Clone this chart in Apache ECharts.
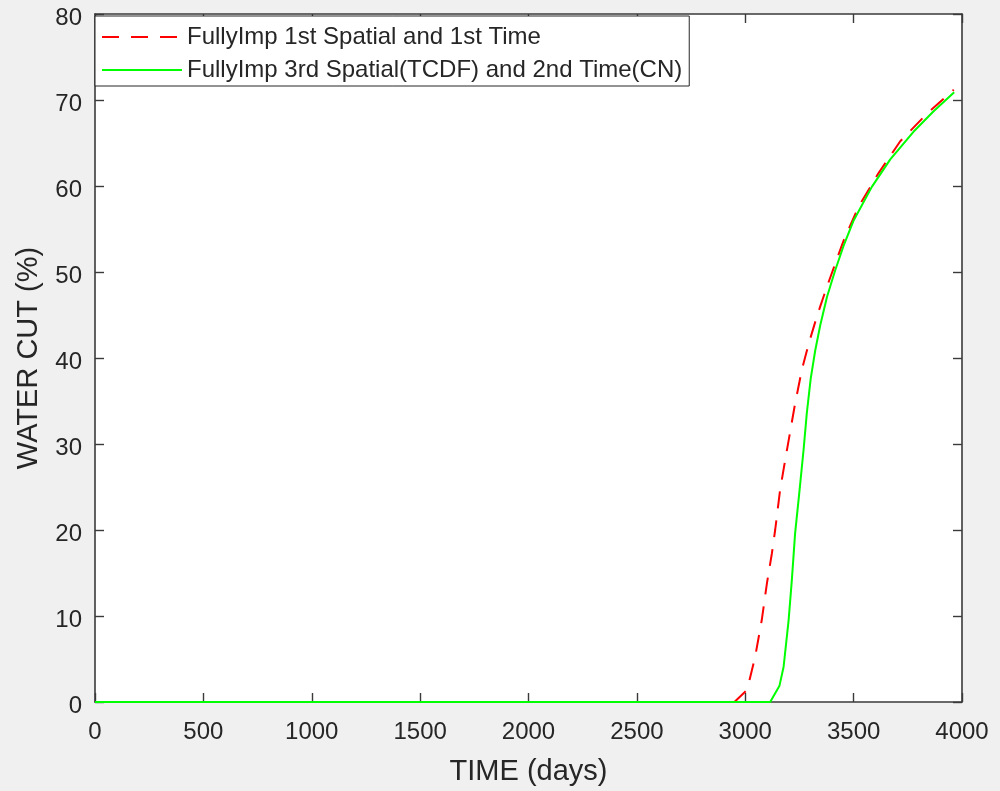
<!DOCTYPE html>
<html>
<head>
<meta charset="utf-8">
<script src="https://cdn.jsdelivr.net/npm/echarts@6/dist/echarts.min.js"></script>
<style>
  html, body { margin: 0; padding: 0; background: #f0f0f0; }
  #chart { width: 1000px; height: 791px; }
</style>
</head>
<body>
<div id="chart"></div>
<script>
// Water cut history for two discretisation schemes
const seriesNames = [
  'FullyImp 1st Spatial and 1st Time',
  'FullyImp 3rd Spatial(TCDF) and 2nd Time(CN)'
];

// 1st order spatial / 1st order time
const firstOrderDays = [0, 2950, 3004, 3020, 3046, 3076, 3100, 3123, 3138, 3161, 3184, 3207, 3230, 3261, 3292, 3323, 3346, 3377, 3407, 3453, 3523, 3615, 3715, 3838, 3962];
const firstOrderCut  = [0, 0, 1.3, 2.6, 5.3, 9.5, 13.8, 17.3, 20.0, 24.7, 28.1, 31.4, 34.7, 38.6, 41.6, 44.2, 46.0, 48.3, 50.4, 53.6, 57.6, 61.5, 65.2, 68.4, 71.2];

// 3rd order spatial (TCDF) / 2nd order time (CN)
const highOrderDays = [0, 3115, 3158, 3177, 3200, 3215, 3230, 3250, 3269, 3284, 3302, 3323, 3346, 3377, 3415, 3453, 3500, 3584, 3669, 3776, 3869, 3964];
const highOrderCut  = [0, 0, 1.9, 4.1, 9.5, 14.2, 19.6, 24.5, 29.3, 33.6, 37.6, 40.9, 43.8, 47.1, 50.2, 53.0, 56.0, 59.9, 63.1, 66.3, 68.7, 70.9];

const xTicks = { min: 0, max: 4000, step: 500 };
const yTicks = { min: 0, max: 80, step: 10 };

const pairs = (xs, ys) => xs.map((x, i) => [x, ys[i]]);
const plainNumber = (v) => String(v);

const axisColor = '#262626';
const fontFamily = '"Liberation Sans", Arial, Helvetica, sans-serif';

const chart = echarts.init(document.getElementById('chart'), null, { renderer: 'canvas' });

const baseAxisLine = { show: true, onZero: false, lineStyle: { color: '#3a3a3a', width: 1.6 } };
const baseTick = { show: true, inside: true, length: 9, lineStyle: { color: '#3a3a3a', width: 1.4 } };

chart.setOption({
  backgroundColor: '#f0f0f0',
  animation: false,
  grid: {
    left: 95, right: 38, top: 14, bottom: 89,
    show: true, backgroundColor: '#ffffff', borderWidth: 0
  },
  legend: {
    show: true,
    orient: 'vertical',
    left: 95, top: 16,
    padding: [9, 7, 4, 6],
    itemWidth: 80, itemHeight: 24, itemGap: 9,
    backgroundColor: '#ffffff',
    borderColor: axisColor, borderWidth: 1,
    itemStyle: { opacity: 0 },
    textStyle: { fontFamily, fontSize: 24, color: axisColor, lineHeight: 24 },
    data: seriesNames
  },
  xAxis: [
    {
      type: 'value', position: 'bottom',
      min: xTicks.min, max: xTicks.max, interval: xTicks.step,
      name: 'TIME (days)', nameLocation: 'middle', nameGap: 55,
      nameTextStyle: { fontFamily, fontSize: 29, color: axisColor },
      axisLine: baseAxisLine, axisTick: baseTick,
      axisLabel: { fontFamily, fontSize: 24, color: axisColor, margin: 18, formatter: plainNumber },
      splitLine: { show: false }
    },
    {
      type: 'value', position: 'top',
      min: xTicks.min, max: xTicks.max, interval: xTicks.step,
      axisLine: baseAxisLine, axisTick: baseTick,
      axisLabel: { show: false }, splitLine: { show: false }
    }
  ],
  yAxis: [
    {
      type: 'value', position: 'left',
      min: yTicks.min, max: yTicks.max, interval: yTicks.step,
      name: 'WATER CUT (%)', nameLocation: 'middle', nameGap: 52,
      nameTextStyle: { fontFamily, fontSize: 29, color: axisColor },
      axisLine: baseAxisLine, axisTick: baseTick,
      axisLabel: {
        fontFamily, fontSize: 24, color: axisColor, margin: 13,
        verticalAlign: 'top', lineHeight: 9, formatter: plainNumber
      },
      splitLine: { show: false }
    },
    {
      type: 'value', position: 'right',
      min: yTicks.min, max: yTicks.max, interval: yTicks.step,
      axisLine: baseAxisLine, axisTick: baseTick,
      axisLabel: { show: false }, splitLine: { show: false }
    }
  ],
  series: [
    {
      name: seriesNames[0], type: 'line',
      xAxisIndex: 0, yAxisIndex: 0,
      data: pairs(firstOrderDays, firstOrderCut),
      showSymbol: false, symbol: 'none', smooth: false,
      color: '#ff0000',
      lineStyle: { color: '#ff0000', width: 2, type: [17, 12] },
      z: 2
    },
    {
      name: seriesNames[1], type: 'line',
      xAxisIndex: 0, yAxisIndex: 0,
      data: pairs(highOrderDays, highOrderCut),
      showSymbol: false, symbol: 'none', smooth: false,
      color: '#00ff00',
      lineStyle: { color: '#00ff00', width: 2, type: 'solid' },
      z: 3
    }
  ]
});
</script>
</body>
</html>
